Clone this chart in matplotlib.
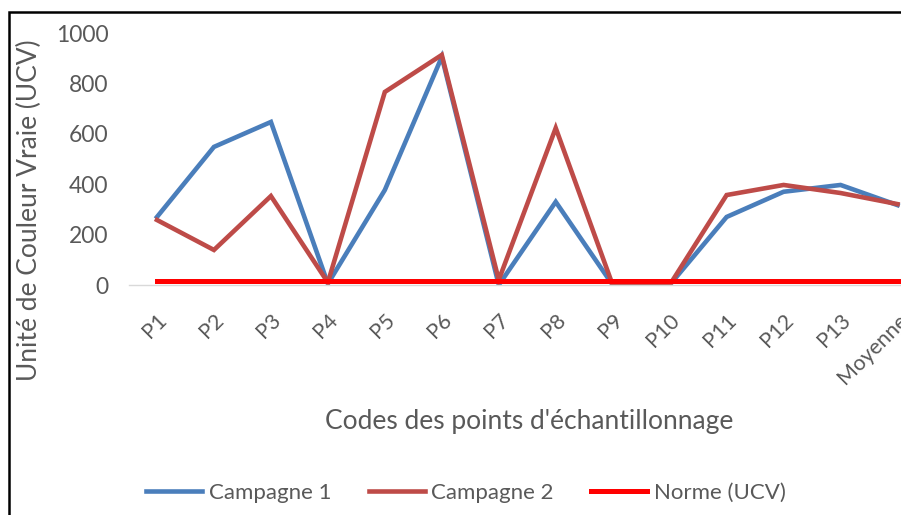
import numpy as np
import matplotlib.pyplot as plt
from matplotlib.patches import Rectangle
import matplotlib.transforms as mtransforms

plt.rcParams['font.family'] = ['Lato', 'DejaVu Sans']

points = ['P1', 'P2', 'P3', 'P4', 'P5', 'P6', 'P7', 'P8', 'P9', 'P10',
          'P11', 'P12', 'P13', 'Moyenne']
campagne1 = [270, 548, 647, 5, 377, 905, 0, 330, 0, 0, 270, 370, 397, 317]
campagne2 = [258, 139, 353, 10, 766, 913, 20, 623, 0, 0, 357, 397, 365, 321]
norme = [15] * len(points)

grey = '#595959'

fig = plt.figure(figsize=(9.01, 5.15), dpi=100)
ax = fig.add_axes([128.5 / 901, 230 / 515, (926 - 128.5) / 901, 252 / 515])

x = np.arange(len(points))
ax.plot(x, campagne1, color='#4A7EBB', lw=3.3, label='Campagne 1', solid_joinstyle='miter')
ax.plot(x, campagne2, color='#BE4B48', lw=3.3, label='Campagne 2', solid_joinstyle='miter')
ax.plot(x, norme, color='#FF0000', lw=3.6, label='Norme (UCV)')

ax.set_xlim(-0.5, len(points) - 0.5)
ax.set_ylim(0, 1000)
ax.set_yticks(np.arange(0, 1001, 200))
ax.set_xticks(x)
ax.set_xticklabels(points, rotation=45, ha='right', va='top', rotation_mode='anchor')
# push rotated labels a little to the right of their tick
offset = mtransforms.ScaledTranslation(4 / 72, 0, fig.dpi_scale_trans)
for lbl in ax.get_xticklabels():
    lbl.set_transform(lbl.get_transform() + offset)

for side in ['top', 'right', 'left']:
    ax.spines[side].set_visible(False)
ax.spines['bottom'].set_color('#D9D9D9')
ax.spines['bottom'].set_linewidth(1)
ax.tick_params(length=0, labelcolor=grey)
ax.tick_params(axis='x', pad=18, labelsize=15.5)
ax.tick_params(axis='y', pad=14.5, labelsize=16.5)
ax.patch.set_alpha(0)

fig.text(29 / 901, 1 - 210 / 515, 'Unité de Couleur Vraie (UCV)', rotation=90,
         ha='center', va='center', fontsize=19, color=grey)
fig.text(529 / 901, 1 - 422 / 515, "Codes des points d'échantillonnage",
         ha='center', va='center', fontsize=19, color=grey)

fig.legend(loc='center', bbox_to_anchor=(466 / 901, 1 - 493 / 515), ncol=3,
           frameon=False, fontsize=16, labelcolor=grey, handlelength=2.5,
           handletextpad=0.3, columnspacing=1.7)

fig.patches.append(Rectangle((9 / 901, -0.1), 1.2, 0.1 + 1 - 12 / 515,
                             transform=fig.transFigure, fill=False,
                             edgecolor='black', lw=1.8, zorder=10))

fig.savefig('out.png', dpi=100)
